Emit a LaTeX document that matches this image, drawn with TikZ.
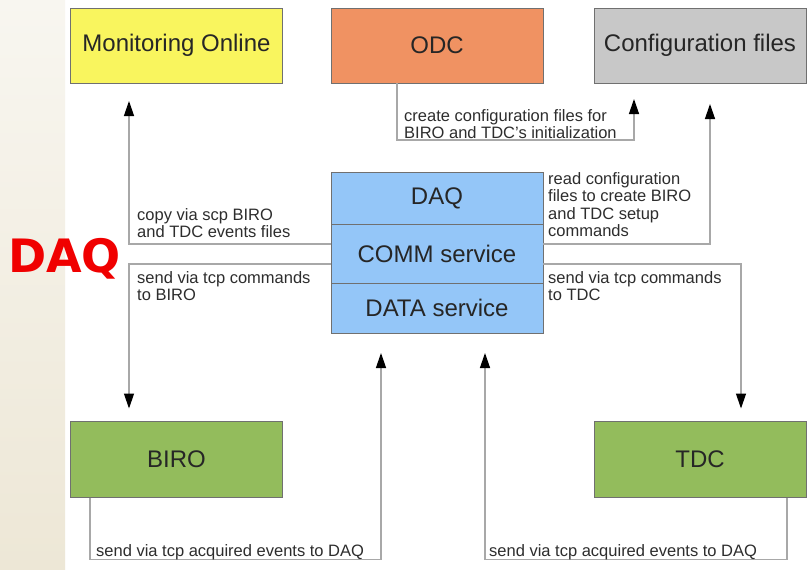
\documentclass[tikz,border=0pt]{standalone}
\usepackage{fontspec}
\setmainfont{Liberation Sans}
\newfontfamily\heavyfont{DejaVu Sans}
\usetikzlibrary{arrows.meta,positioning}
\definecolor{monfill}{RGB}{249,245,94}
\definecolor{odcfill}{RGB}{240,146,98}
\definecolor{cfgfill}{RGB}{200,200,200}
\definecolor{daqfill}{RGB}{148,198,248}
\definecolor{hwfill}{RGB}{147,188,92}
\definecolor{edge}{RGB}{112,112,112}
\definecolor{wire}{RGB}{168,168,168}
\definecolor{txt}{RGB}{45,45,45}
\definecolor{stripT}{RGB}{248,246,240}
\definecolor{stripB}{RGB}{237,231,214}
\definecolor{daqred}{RGB}{240,0,0}
\begin{document}
\begin{tikzpicture}[x=1pt,y=-1pt,box/.style={draw=edge,line width=1pt,inner sep=0,outer sep=0,minimum width=212pt,minimum height=75pt,font=\fontsize{24}{28}\selectfont,text=black!85},lbl/.style={anchor=north west,inner sep=0,align=left,text=txt,font=\fontsize{16.5}{17.5}\selectfont},arr/.style={draw=wire,line width=1.3pt,-{Triangle[length=15pt,width=10pt,color=black]}}]
\useasboundingbox (0,0) rectangle (807,570);
\fill[white] (0,0) rectangle (807,570);
\shade[top color=stripT,bottom color=stripB] (0,0) rectangle (65,570);
% top row
\node[box,fill=monfill] (mon) at (176.5,45.5) {Monitoring Online};
\node[box,fill=odcfill] (odc) at (437,45.5) {ODC};
\node[box,fill=cfgfill] (cfg) at (700,45.5) {Configuration files};
% DAQ stack
\node[box,fill=daqfill,minimum height=52pt] (daq) at (437,198) {DAQ};
\node[box,fill=daqfill,minimum height=59pt,below=0pt of daq] (comm) {COMM service};
\node[box,fill=daqfill,minimum height=50pt,below=0pt of comm] (data) {DATA service};
% boards
\node[box,fill=hwfill,minimum height=76pt] (biro) at (176.5,459.5) {BIRO};
\node[box,fill=hwfill,minimum height=76pt] (tdc) at (700,459.5) {TDC};
\node[anchor=base west,inner sep=0,text=daqred,font=\heavyfont\fontsize{46}{46}\selectfont\bfseries] (title) at (8,272) {DAQ};
% connectors
\draw[arr]([yshift=9.5pt]comm.west) -| ([xshift=-47.5pt,yshift=-18pt]mon.south);
\draw[arr]([yshift=-10.5pt]comm.west) -| ([xshift=-47.5pt,yshift=13pt]biro.north);
\draw[arr]([xshift=-40pt]odc.south) -- ++(0,57) -| ([xshift=-66pt,yshift=-16pt]cfg.south);
\draw[arr]([yshift=9.5pt]comm.east) -| ([xshift=10pt,yshift=-21pt]cfg.south);
\draw[arr]([yshift=-10.5pt]comm.east) -| ([xshift=41pt,yshift=13pt]tdc.north);
\draw[arr]([xshift=-86.5pt]biro.south) -- ++(0,62) -| ([xshift=-56pt,yshift=-20pt]data.south);
\draw[arr]([xshift=87pt]tdc.south) -- ++(0,62) -| ([xshift=48pt,yshift=-20pt]data.south);
% labels
\node[lbl] (lcopy) at (137,208) {copy via scp BIRO\\and TDC events files};
\node[lbl] (lcmdb) at (137,271) {send via tcp commands\\to BIRO};
\node[lbl] (lcreate) at (404,109) {create configuration files for\\BIRO and TDC's initialization};
\node[lbl] (lread) at (548,172) {read configuration\\files to create BIRO\\and TDC setup\\commands};
\node[lbl] (lcmdt) at (548,271) {send via tcp commands\\to TDC};
\node[lbl] (levb) at (96,544) {send via tcp acquired events to DAQ};
\node[lbl] (levt) at (489,544) {send via tcp acquired events to DAQ};
\end{tikzpicture}
\end{document}
